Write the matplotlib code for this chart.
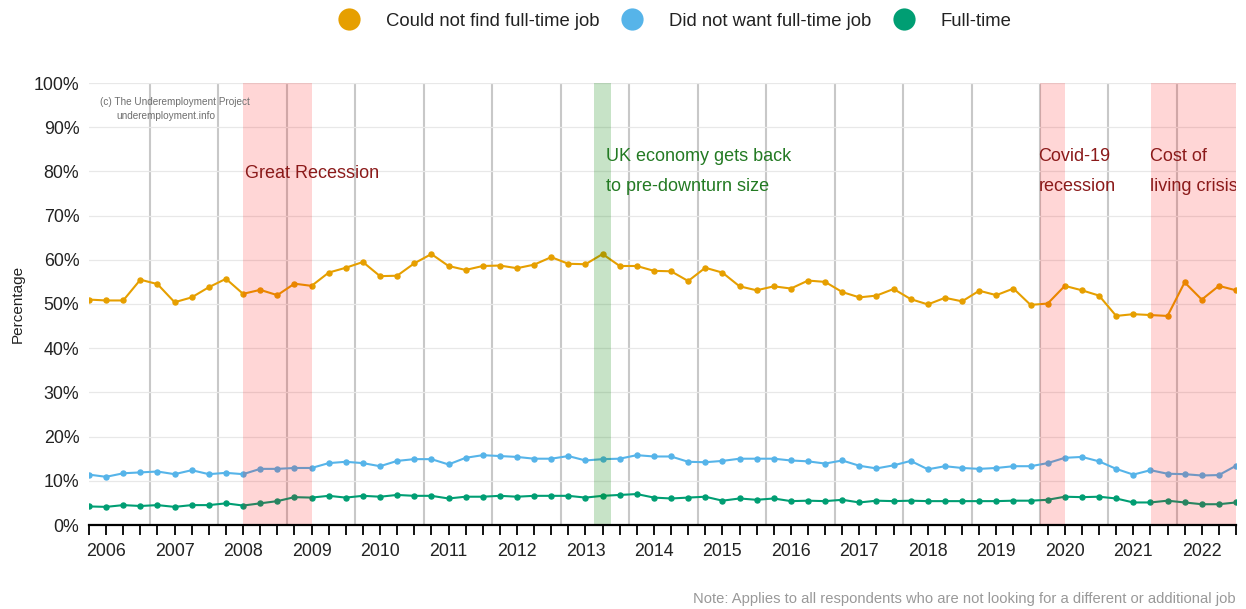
import matplotlib
matplotlib.use("Agg")
import matplotlib.pyplot as plt
from matplotlib.lines import Line2D

plt.rcParams['font.family'] = ['Liberation Sans', 'DejaVu Sans']

# quarterly series, percent
could_not_find = [51.0, 50.8, 50.8, 55.5, 54.5, 50.4, 51.5, 53.8, 55.7, 52.3,
                  53.2, 52.0, 54.6, 54.1, 57.1, 58.2, 59.5, 56.3, 56.4, 59.2,
                  61.3, 58.6, 57.7, 58.6, 58.7, 58.1, 58.9, 60.6, 59.1, 59.0,
                  61.3, 58.6, 58.6, 57.5, 57.4, 55.2, 58.2, 57.1, 54.0, 53.1,
                  54.0, 53.5, 55.3, 55.0, 52.7, 51.5, 51.9, 53.4, 51.1, 49.9,
                  51.4, 50.6, 53.0, 52.0, 53.5, 49.8, 50.1, 54.1, 53.1, 51.9,
                  47.3, 47.7, 47.5, 47.3, 54.9, 51.0, 54.1, 53.1]
did_not_want = [11.4, 10.9, 11.7, 11.9, 12.1, 11.5, 12.4, 11.5, 11.8, 11.5,
                12.7, 12.7, 12.9, 12.9, 14.0, 14.3, 14.0, 13.3, 14.5, 14.9,
                14.9, 13.7, 15.2, 15.8, 15.6, 15.4, 15.0, 15.0, 15.6, 14.6,
                14.9, 15.0, 15.8, 15.5, 15.5, 14.3, 14.2, 14.5, 15.0, 15.0,
                15.0, 14.6, 14.4, 13.9, 14.6, 13.4, 12.8, 13.5, 14.5, 12.6,
                13.3, 12.9, 12.7, 12.9, 13.3, 13.3, 14.0, 15.2, 15.4, 14.4,
                12.7, 11.4, 12.4, 11.6, 11.5, 11.2, 11.3, 13.4]
full_time = [4.2, 4.1, 4.5, 4.3, 4.5, 4.1, 4.5, 4.5, 4.9, 4.4,
             4.9, 5.4, 6.3, 6.2, 6.6, 6.2, 6.6, 6.4, 6.8, 6.6,
             6.6, 6.0, 6.4, 6.4, 6.6, 6.4, 6.6, 6.6, 6.6, 6.2,
             6.6, 6.8, 7.0, 6.2, 6.0, 6.2, 6.4, 5.5, 6.0, 5.7,
             6.0, 5.4, 5.5, 5.4, 5.7, 5.1, 5.5, 5.4, 5.5, 5.4,
             5.4, 5.4, 5.4, 5.4, 5.5, 5.5, 5.7, 6.4, 6.3, 6.4,
             6.0, 5.1, 5.1, 5.5, 5.1, 4.7, 4.7, 5.1]

years = list(range(2006, 2023))
year_first_idx = 1           # quarter index where the first year label sits
year_lines_start = 3.55      # grey year separators
series_names = ["Could not find full-time job", "Did not want full-time job", "Full-time"]
series_colors = ["#E69F00", "#56B4E9", "#009E73"]

# (start, end, label, colour) in quarter index units
periods = [(9.0, 13.05, "Great Recession", "red"),
           (29.5, 30.5, "UK economy gets back\nto pre-downturn size", "green"),
           (55.55, 57.0, "Covid-19\nrecession", "red"),
           (62.05, 67.5, "Cost of\nliving crisis", "red")]

n = len(could_not_find)
x = list(range(n))

fig = plt.figure(figsize=(12.46, 6.09), dpi=100)
ax = fig.add_axes([89 / 1246, 1 - 525 / 609, (1236 - 89) / 1246, (525 - 83) / 609])

ax.set_xlim(0, n - 1)
ax.set_ylim(0, 100)

ax.set_yticks(range(0, 101, 10))
ax.set_yticklabels([f"{v}%" for v in range(0, 101, 10)])
ax.yaxis.grid(True, color="#e8e8e8", linewidth=0.9, zorder=0)
ax.tick_params(axis="y", length=0, pad=7, labelsize=12.8, labelcolor="#222222")

labels = [""] * n
for k, yr in enumerate(years):
    labels[year_first_idx + 4 * k] = str(yr)
ax.set_xticks(x)
ax.set_xticklabels(labels)
ax.tick_params(axis="x", length=7, width=1.3, direction="out", pad=6,
               labelsize=12.8, labelcolor="#222222", color="black")

for s in ["top", "right", "left"]:
    ax.spines[s].set_visible(False)
ax.spines["bottom"].set_linewidth(1.6)
ax.spines["bottom"].set_zorder(5)

# year separator lines
for k in range(16):
    ax.axvline(year_lines_start + 4 * k, color="#c8c8c8", linewidth=1.5, zorder=1)

for vals, name, col in zip([could_not_find, did_not_want, full_time], series_names, series_colors):
    ax.plot(x, vals, color=col, linewidth=1.5, marker="o", markersize=3.6,
            label=name, zorder=2)

text_colors = {"red": "#8b1a1a", "green": "#237a23"}
for start, end, label, kind in periods:
    if kind == "red":
        ax.axvspan(start, end, color="#ff0000", alpha=0.16, linewidth=0, zorder=3)
    else:
        ax.axvspan(start, end, color="#008000", alpha=0.22, linewidth=0, zorder=3)
    if kind == "green":
        tx = end - 0.3
    elif "\n" in label:
        tx = start - 0.1
    else:
        tx = start + 0.1
    ty = 79.5 if "\n" not in label else 80
    ax.text(tx, ty, label, color=text_colors[kind], fontsize=13, ha="left", va="center",
            linespacing=1.95, zorder=4, clip_on=True)

ax.text(0.65, 95.7, "(c) The Underemployment Project", fontsize=7.2, color="#6e6e6e",
        ha="left", va="center", zorder=4)
ax.text(1.6, 92.5, "underemployment.info", fontsize=7.2, color="#6e6e6e",
        ha="left", va="center", zorder=4)

ax.set_ylabel("Percentage", fontsize=11, color="#222222")
ax.yaxis.set_label_coords(-(89 - 25) / 1147, 0.5)

handles = [Line2D([], [], linestyle="none", marker="o", markersize=16, color=c,
                  markeredgewidth=0) for c in series_colors]
fig.legend(handles, series_names, loc="center", bbox_to_anchor=(674 / 1246, 1 - 21 / 609),
           ncol=3, frameon=False, fontsize=13.3, handlelength=1.4, handletextpad=1.3,
           columnspacing=1.05, labelcolor="#222222")

fig.text(1236 / 1246, 1 - 599 / 609,
         "Note: Applies to all respondents who are not looking for a different or additional job",
         ha="right", va="center", fontsize=10.6, color="#999999")

fig.savefig("out.png", dpi=100)
